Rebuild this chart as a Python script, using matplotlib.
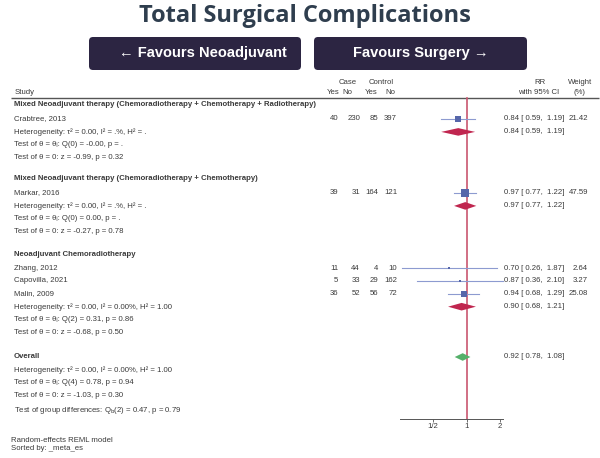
import numpy as np
import matplotlib
matplotlib.use("Agg")
import matplotlib.pyplot as plt
from matplotlib.patches import FancyBboxPatch

# ---------------- data ----------------
title = "Total Surgical Complications"
left_label = "← Favours Neoadjuvant"
right_label = "Favours Surgery →"

groups = [
    "Mixed Neoadjuvant therapy (Chemoradiotherapy + Chemotherapy + Radiotherapy)",
    "Mixed Neoadjuvant therapy (Chemoradiotherapy + Chemotherapy)",
    "Neoadjuvant Chemoradiotherapy",
]
studies = ["Crabtree, 2013", "Markar, 2016", "Zhang, 2012", "Capovilla, 2021", "Malin, 2009"]
study_group = [0, 1, 2, 2, 2]
case_yes = [40, 39, 11, 5, 36]
case_no = [230, 31, 44, 33, 52]
ctrl_yes = [85, 164, 4, 29, 56]
ctrl_no = [397, 121, 10, 162, 72]
rr = [0.84, 0.97, 0.70, 0.87, 0.94]
rr_lo = [0.59, 0.77, 0.26, 0.36, 0.68]
rr_hi = [1.19, 1.22, 1.87, 2.10, 1.29]
weight = [21.42, 47.59, 2.64, 3.27, 25.08]

group_rr = [0.84, 0.97, 0.90]
group_lo = [0.59, 0.77, 0.68]
group_hi = [1.19, 1.22, 1.21]
group_het = [
    "Heterogeneity: τ² = 0.00, I² = .%, H² = .",
    "Heterogeneity: τ² = 0.00, I² = .%, H² = .",
    "Heterogeneity: τ² = 0.00, I² = 0.00%, H² = 1.00",
]
group_q = [
    "Test of θ = θᵢ: Q(0) = -0.00, p = .",
    "Test of θ = θᵢ: Q(0) = 0.00, p = .",
    "Test of θ = θᵢ: Q(2) = 0.31, p = 0.86",
]
group_z = [
    "Test of θ = 0: z = -0.99, p = 0.32",
    "Test of θ = 0: z = -0.27, p = 0.78",
    "Test of θ = 0: z = -0.68, p = 0.50",
]
overall_rr, overall_lo, overall_hi = 0.92, 0.78, 1.08
overall_het = "Heterogeneity: τ² = 0.00, I² = 0.00%, H² = 1.00"
overall_q = "Test of θ = θᵢ: Q(4) = 0.78, p = 0.94"
overall_z = "Test of θ = 0: z = -1.03, p = 0.30"
group_diff = r"Test of group differences: Q$_\mathrm{b}$(2) = 0.47, p = 0.79"
footnotes = ["Random-effects REML model", "Sorted by: _meta_es"]
xticks = [0.5, 1, 2]
xticklabels = ["1/2", "1", "2"]

# ---------------- layout ----------------
W, H = 600, 458
fig = plt.figure(figsize=(W / 100, H / 100), dpi=100)
fig.patch.set_facecolor("white")

FONT = ["Liberation Sans", "DejaVu Sans"]
FS = 5.6
TXT = "#3a3a3a"

ax = fig.add_axes([0, 0, 1, 1])
ax.set_xlim(0, W)
ax.set_ylim(H, 0)
ax.axis("off")

# forest axes (log scale): x=1 at 466.7 px, 33.5 px per doubling
fx0, fx1 = 380, 520
x1px, per2 = 466.7, 33.5
fax = fig.add_axes([fx0 / W, 0, (fx1 - fx0) / W, 1])
fax.set_xscale("log")
fax.set_xlim(2 ** ((fx0 - x1px) / per2), 2 ** ((fx1 - x1px) / per2))
fax.set_ylim(H, 0)
fax.patch.set_alpha(0)
for s in ["top", "right", "left"]:
    fax.spines[s].set_visible(False)
fax.set_yticks([])
axis_y = 418.6
fax.spines["bottom"].set_position(("data", axis_y))
fax.spines["bottom"].set_bounds(0.25, 2.1)
fax.spines["bottom"].set_color("#555555")
fax.spines["bottom"].set_linewidth(0.7)
fax.set_xticks(xticks)
fax.set_xticklabels(xticklabels, fontsize=FS, family=FONT, color=TXT)
fax.xaxis.set_minor_locator(matplotlib.ticker.NullLocator())
fax.tick_params(axis="x", length=2, width=0.6, color="#555555", pad=1.5)


def t(x, y, s, ha="left", bold=False, fs=FS, color=TXT, **kw):
    ax.text(x, y, s, ha=ha, va="center", fontsize=fs, family=FONT,
            fontweight="bold" if bold else "normal", color=color, **kw)


# title and buttons
ax.text(305, 15.5, title, ha="center", va="center", fontsize=17,
        family=["Open Sans", "DejaVu Sans"], fontweight="bold", color="#2f3e4e")
BTN = "#2c2542"
for (bx0, bx1), lab, cx in [((89, 301), left_label, 203), ((314, 527), right_label, 421)]:
    ax.add_patch(FancyBboxPatch((bx0 + 4, 37 + 4), bx1 - bx0 - 8, 33 - 8,
                                boxstyle="round,pad=4", fc=BTN, ec="none"))
    ax.text(cx, 53.5, lab, ha="center", va="center", fontsize=10.5,
            family=FONT, fontweight="bold", color="white")

# column headers
t(15, 92, "Study")
t(348, 82, "Case", ha="center")
t(381, 82, "Control", ha="center")
t(333, 92, "Yes", ha="center")
t(347, 92, "No", ha="center")
t(371, 92, "Yes", ha="center")
t(390, 92, "No", ha="center")
t(540, 82, "RR", ha="center")
t(539, 92, "with 95% CI", ha="center")
t(580, 82, "Weight", ha="center")
t(580, 92, "(%)", ha="center")
ax.plot([11, 599], [98, 98], color="#555555", lw=1.0, solid_capstyle="butt")

# red null line
fax.plot([1, 1], [98, axis_y], color="#c9566f", lw=1.2, zorder=1)

SQ = "#5666aa"
CI = "#8d9bd0"
GD = "#c0264f"
OD = "#55b06a"

group_header_y = [105, 179, 255]
group_first_study_y = [119, 193, 268]
row_step = 12.9

col_x = [338, 360, 378, 397]


def diamond(est, lo, hi, y, color, h=3.8):
    fax.fill([lo, est, hi, est], [y, y - h, y, y + h], color=color, lw=0, zorder=3)


for g, gname in enumerate(groups):
    y = group_header_y[g]
    t(14, y, gname, bold=True)
    y = group_first_study_y[g]
    idx = [i for i, sg in enumerate(study_group) if sg == g]
    for i in idx:
        t(14, y, studies[i])
        for cx, v in zip(col_x, [case_yes[i], case_no[i], ctrl_yes[i], ctrl_no[i]]):
            t(cx, y, str(v), ha="right")
        fax.plot([rr_lo[i], rr_hi[i]], [y, y], color=CI, lw=0.8, zorder=2)
        ms = 6.4 * np.sqrt(weight[i] / max(weight))
        fax.plot([rr[i]], [y], marker="s", ms=ms, color=SQ, mew=0, zorder=4)
        t(504, y, f"{rr[i]:.2f} [{rr_lo[i]:5.2f}, {rr_hi[i]:5.2f}]")
        t(588, y, f"{weight[i]:.2f}", ha="right")
        y += row_step
    # heterogeneity row with diamond
    t(14, y, group_het[g])
    diamond(group_rr[g], group_lo[g], group_hi[g], y, GD)
    t(504, y, f"{group_rr[g]:.2f} [{group_lo[g]:5.2f}, {group_hi[g]:5.2f}]")
    y += row_step
    t(14, y, group_q[g])
    y += row_step
    t(14, y, group_z[g])

# overall
yo = 357
t(14, yo, "Overall", bold=True)
diamond(overall_rr, overall_lo, overall_hi, yo, OD)
t(504, yo, f"{overall_rr:.2f} [{overall_lo:5.2f}, {overall_hi:5.2f}]")
t(14, yo + row_step, overall_het)
t(14, yo + 2 * row_step, overall_q)
t(14, yo + 3 * row_step - 0.5, overall_z)
t(14, 411, group_diff)

t(11, 440, footnotes[0])
t(11, 449, footnotes[1])

fig.savefig("out.png", dpi=100, facecolor="white")
